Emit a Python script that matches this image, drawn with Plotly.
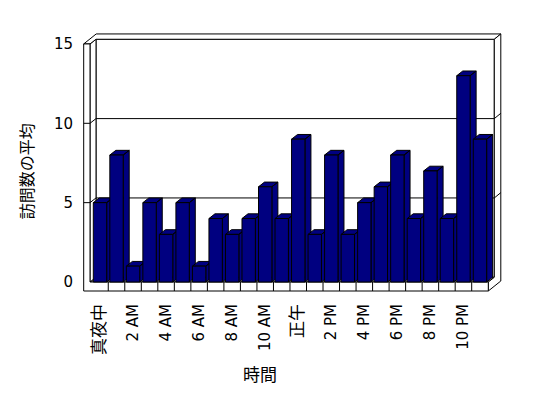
import re
import plotly.graph_objects as go

# ---- data ----
hours = list(range(24))
visits_avg = [5, 8, 1, 5, 3, 5, 1, 4, 3, 4, 6, 4, 9, 3, 8, 3, 5, 6, 8, 4, 7, 4, 13, 9]
tick_positions = [0, 2, 4, 6, 8, 10, 12, 14, 16, 18, 20, 22]
tick_labels = ["真夜中", "2 AM", "4 AM", "6 AM", "8 AM", "10 AM", "正午",
               "2 PM", "4 PM", "6 PM", "8 PM", "10 PM"]
y_ticks = [0, 5, 10, 15]
x_title = "時間"
y_title = "訪問数の平均"

# ---- style / geometry ----
BAR_COLOR = "#000080"
FONT = "DejaVu Sans, Noto Sans CJK JP, sans-serif"
CJK_FONT = "Noto Sans CJK JP"
half_w = 0.405            # half bar width (category units)
dx, dy = 0.363, 0.296     # oblique depth offset of bars / wall face
dx2, dy2 = 0.757, 0.63    # depth offset of wall back face
left_out, left_in = -0.987, -0.605
right_front = 23.505
floor_th = 0.567
ymax = 15
xr = [-1.2107, 24.455]
yr = [-0.819, 15.879]


def styled(lbl):
    if re.search(r"[\u3000-\u9fff]", lbl):
        return f'<span style="font-family:{CJK_FONT};font-size:17px">{lbl}</span>'
    return lbl


fig = go.Figure()


def poly(xs, ys, fill="white", width=1):
    fig.add_trace(go.Scatter(x=xs, y=ys, mode="lines", fill="toself",
                             fillcolor=fill, line=dict(color="black", width=width),
                             hoverinfo="skip", showlegend=False))


def line(xs, ys):
    fig.add_trace(go.Scatter(x=xs, y=ys, mode="lines",
                             line=dict(color="black", width=1),
                             hoverinfo="skip", showlegend=False))


# back wall face
bx0, bx1 = left_in + dx, right_front + dx
poly([bx0, bx1, bx1, bx0, bx0], [dy, dy, ymax + dy, ymax + dy, dy])
# floor top
poly([left_in, right_front, bx1, bx0, left_in], [0, 0, dy, dy, 0])
# left wall inner face
poly([left_in, left_in, bx0, bx0, left_in], [0, ymax, ymax + dy, dy, 0])
# top of walls
poly([left_out, left_in, bx0, bx1, right_front + dx2, left_out + dx2, left_out],
     [ymax, ymax, ymax + dy, ymax + dy, ymax + dy2, ymax + dy2, ymax])
# right side
rx = right_front + dx2
poly([right_front, right_front, rx, rx, bx1, bx1, right_front],
     [0, -floor_th, -floor_th + dy2, ymax + dy2, ymax + dy, dy, 0])
# front L (left wall front + floor front)
poly([left_out, left_out, right_front, right_front, left_in, left_in, left_out],
     [ymax, -floor_th, -floor_th, 0, 0, ymax, ymax])

# gridlines
for v in y_ticks[1:-1]:
    line([left_out, left_in, bx0, bx1, rx], [v, v, v + dy, v + dy, v + dy2])
# floor front ticks
for k in range(len(hours) - 1):
    line([k + 0.5, k + 0.5], [0, -floor_th])

# bar top and side faces
for h, v in zip(hours, visits_avg):
    x0, x1 = h - half_w, h + half_w
    poly([x0, x1, x1 + dx, x0 + dx, x0, None, x1, x1, x1 + dx, x1 + dx, x1],
         [v, v, v + dy, v + dy, v, None, 0, v, v + dy, dy, 0], fill=BAR_COLOR)

# bar front faces (overlay axes so they sit above the faces)
fig.add_trace(go.Bar(x=hours, y=visits_avg, width=2 * half_w,
                     marker=dict(color=BAR_COLOR, line=dict(color="black", width=1)),
                     xaxis="x2", yaxis="y2", hoverinfo="skip", showlegend=False))

# page body has an 8px default margin, so the figure is 8px smaller
fig.update_layout(
    width=540, height=390,
    margin=dict(l=72, r=44, t=22, b=103),
    paper_bgcolor="white", plot_bgcolor="white",
    font=dict(family=FONT, size=15, color="black"),
    xaxis=dict(range=xr, showgrid=False, zeroline=False, showline=False,
               tickmode="array", tickvals=tick_positions,
               ticktext=[styled(t) for t in tick_labels],
               tickangle=-90, ticks="", ticklabelstandoff=5,
               tickfont=dict(family=FONT, size=15, color="black")),
    yaxis=dict(range=yr, showgrid=False, zeroline=False, showline=False,
               tickmode="array", tickvals=y_ticks, ticks="", ticklabelstandoff=6,
               tickfont=dict(family=FONT, size=15, color="black")),
    xaxis2=dict(range=xr, overlaying="x", visible=False),
    yaxis2=dict(range=yr, overlaying="y", visible=False),
    annotations=[
        dict(text=x_title, xref="paper", yref="paper", x=0.4245, y=-0.298,
             showarrow=False, font=dict(family=CJK_FONT, size=17),
             xanchor="center", yanchor="middle"),
        dict(text=y_title, xref="paper", yref="paper", x=-0.127, y=0.468,
             showarrow=False, textangle=-90, font=dict(family=CJK_FONT, size=16),
             xanchor="center", yanchor="middle"),
    ],
)

fig.write_html("out.html")
